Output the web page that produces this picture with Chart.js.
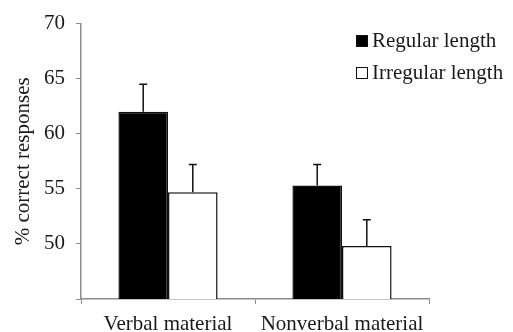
<!DOCTYPE html>
<html>
<head>
<meta charset="utf-8">
<script src="https://cdn.jsdelivr.net/npm/chart.js@4/dist/chart.umd.min.js"></script>
<style>
  html, body { margin: 0; padding: 0; background: #fff; }
  #wrap { width: 513px; height: 332px; }
</style>
</head>
<body>
<div id="wrap"><canvas id="lengthChart"></canvas></div>
<script>
// data
var categories = ["Verbal material", "Nonverbal material"];
var regular = [62.0, 55.3];
var irregular = [54.7, 49.8];
var regularErr = [2.5, 1.9];
var irregularErr = [2.5, 2.4];
var yTicks = [50, 55, 60, 65, 70];

var serif = "'Liberation Serif', 'Times New Roman', serif";
var textColor = '#1a1a1a';
var axisColor = '#8c8c8c';

// upward error bars with a small cap
var errorBars = {
  id: 'errorBars',
  afterDatasetsDraw: function(chart) {
    var ctx = chart.ctx;
    var yScale = chart.scales.y;
    chart.data.datasets.forEach(function(ds, i) {
      var meta = chart.getDatasetMeta(i);
      meta.data.forEach(function(bar, j) {
        var top = yScale.getPixelForValue(ds.data[j] + ds.errors[j]);
        ctx.save();
        ctx.strokeStyle = '#111';
        ctx.lineWidth = 1.5;
        ctx.beginPath();
        ctx.moveTo(bar.x, bar.y);
        ctx.lineTo(bar.x, top);
        ctx.moveTo(bar.x - 4, top);
        ctx.lineTo(bar.x + 4, top);
        ctx.stroke();
        ctx.restore();
      });
    });
  }
};

// legend in the top right corner
var cornerLegend = {
  id: 'cornerLegend',
  afterDraw: function(chart) {
    var ctx = chart.ctx;
    ctx.save();
    ctx.font = '21px ' + serif;
    ctx.textBaseline = 'middle';
    chart.data.datasets.forEach(function(ds, i) {
      var y = 41 + i * 32;
      ctx.fillStyle = ds.backgroundColor;
      ctx.strokeStyle = '#111';
      ctx.lineWidth = 1;
      ctx.fillRect(356.5, y - 5.5, 11, 11);
      ctx.strokeRect(356.5, y - 5.5, 11, 11);
      ctx.fillStyle = textColor;
      ctx.fillText(ds.label, 372, y);
    });
    ctx.restore();
  }
};

var lengthChart = new Chart(document.getElementById('lengthChart').getContext('2d'), {
  type: 'bar',
  data: {
    labels: categories,
    datasets: [{
      label: 'Regular length',
      data: regular,
      errors: regularErr,
      backgroundColor: '#000',
      borderColor: '#111',
      borderWidth: 1.5
    }, {
      label: 'Irregular length',
      data: irregular,
      errors: irregularErr,
      backgroundColor: '#fff',
      borderColor: '#111',
      borderWidth: 1.5
    }]
  },
  options: {
    responsive: true,
    maintainAspectRatio: false,
    animation: false,
    categoryPercentage: 0.57,
    barPercentage: 1.0,
    layout: {
      padding: { left: 11, right: 84, top: 22, bottom: 0 }
    },
    plugins: {
      legend: { display: false },
      tooltip: { enabled: false }
    },
    scales: {
      x: {
        grid: {
          drawOnChartArea: false,
          color: axisColor,
          tickLength: 5
        },
        border: { color: axisColor, width: 1.5 },
        ticks: {
          color: textColor,
          font: { family: serif, size: 21 },
          padding: 8
        },
        afterFit: function(scale) { scale.height = 33; }
      },
      y: {
        min: 45,
        max: 70,
        afterBuildTicks: function(scale) {
          scale.ticks = [45].concat(yTicks).map(function(v) { return { value: v }; });
        },
        grid: {
          drawOnChartArea: false,
          color: axisColor,
          tickLength: 5
        },
        border: { color: axisColor, width: 1.5 },
        ticks: {
          color: textColor,
          font: { family: serif, size: 21 },
          padding: 11,
          callback: function(v) { return yTicks.indexOf(v) >= 0 ? v : ''; }
        },
        title: {
          display: true,
          text: '% correct responses',
          color: textColor,
          font: { family: serif, size: 21 },
          padding: 0
        },
        afterFit: function(scale) { scale.width = 70; }
      }
    }
  },
  plugins: [errorBars, cornerLegend]
});
</script>
</body>
</html>
